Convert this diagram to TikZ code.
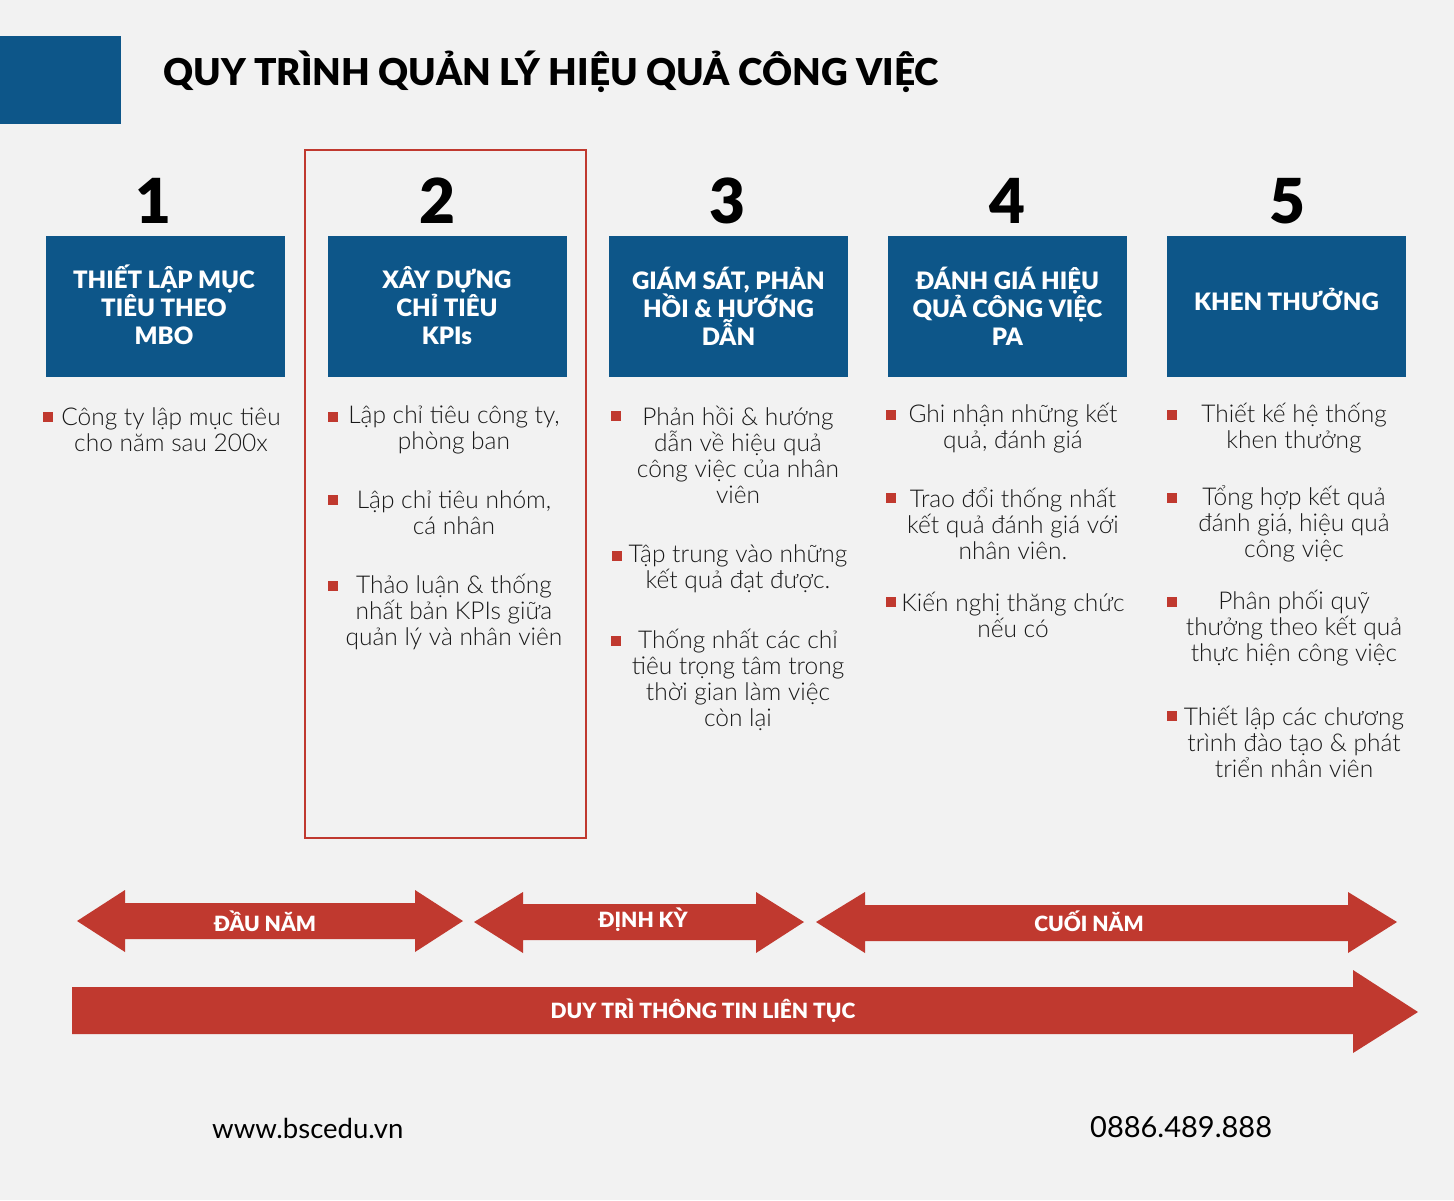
\documentclass[tikz,border=0pt]{standalone}
\usepackage{fontspec}
\setmainfont{Lato}
\newfontfamily\lightfont{Lato Light}
\newfontfamily\heavyfont{Lato Black}
\definecolor{bg}{HTML}{F2F2F2}
\definecolor{navy}{HTML}{0D5689}
\definecolor{brick}{HTML}{C0392F}
\tikzset{
  bluebox/.style={fill=navy, draw=none, minimum width=239pt, minimum height=141pt, inner sep=0pt},
  boxtitle/.style={text=white, font=\heavyfont\fontsize{24}{28}\selectfont, align=center, inner sep=0pt},
  stepnum/.style={font=\heavyfont\fontsize{62}{62}\selectfont, inner sep=0pt},
  bul/.style={fill=brick, minimum size=10pt, inner sep=0pt},
  itemtext/.style={font=\lightfont\fontsize{24.5}{26}\selectfont, align=center, inner sep=0pt, text=black!90},
  arrowlabel/.style={text=white, font=\heavyfont\fontsize{21}{22}\selectfont, inner sep=0pt},
  bigarrow/.style={fill=brick, draw=none},
  footer/.style={font=\fontsize{27.5}{30}\selectfont, inner sep=0pt}
}
\begin{document}
\begin{tikzpicture}[x=1pt, y=-1pt]
\fill[bg] (0,0) rectangle (1454,1200);
\path[use as bounding box] (0,0) rectangle (1454,1200);
% header
\fill[navy] (0,36) rectangle (121,124);
\node[anchor=west, inner sep=0pt, font=\heavyfont\fontsize{37}{40}\selectfont] (title) at (163,72) {QUY TRÌNH QUẢN LÝ HIỆU QUẢ CÔNG VIỆC};
% highlight frame
\draw[brick, line width=2pt] (305,150) rectangle (586,838);
% numbers
\node[stepnum] (n1) at (153,201) {1};
\node[stepnum] (n2) at (437,201) {2};
\node[stepnum] (n3) at (727,201) {3};
\node[stepnum] (n4) at (1007,201) {4};
\node[stepnum] (n5) at (1287,201) {5};
% boxes
\node[bluebox] (b1) at (165.5,306.5) {};
\node[bluebox] (b2) at (447,306.5) {};
\node[bluebox] (b3) at (728.5,306.5) {};
\node[bluebox] (b4) at (1007.5,306.5) {};
\node[bluebox] (b5) at (1286.5,306.5) {};
\node[boxtitle] (t1) at (164,305) {THIẾT LẬP MỤC\\TIÊU THEO\\MBO};
\node[boxtitle] (t2) at (447,306) {XÂY DỰNG\\CHỈ TIÊU\\KPIs};
\node[boxtitle] (t3) at (728.5,306) {GIÁM SÁT, PHẢN\\HỒI \& HƯỚNG\\DẪN};
\node[boxtitle] (t4) at (1007.5,306) {ĐÁNH GIÁ HIỆU\\QUẢ CÔNG VIỆC\\PA};
\node[boxtitle] (t5) at (1286.5,299) {KHEN THƯỞNG};
% column 1
\node[bul] (p11) at (48,417) {};
\node[itemtext] (i11) at (171,430) {Công ty lập mục tiêu\\cho năm sau 200x};
% column 2
\node[bul] (p21) at (333,417) {};
\node[itemtext] (i21) at (454,430) {Lập chỉ tiêu công ty,\\phòng ban};
\node[bul] (p22) at (333,500) {};
\node[itemtext] (i22) at (454,513) {Lập chỉ tiêu nhóm,\\cá nhân};
\node[bul] (p23) at (333,586) {};
\node[itemtext] (i23) at (454,612) {Thảo luận \& thống\\nhất bản KPIs giữa\\quản lý và nhân viên};
% column 3
\node[bul] (p31) at (616,416) {};
\node[itemtext] (i31) at (738,455) {Phản hồi \& hướng\\dẫn về hiệu quả\\công việc của nhân\\viên};
\node[bul] (p32) at (617,556) {};
\node[itemtext] (i32) at (738,569) {Tập trung vào những\\kết quả đạt được.};
\node[bul] (p33) at (616,641) {};
\node[itemtext] (i33) at (738,680) {Thống nhất các chỉ\\tiêu trọng tâm trong\\thời gian làm việc\\còn lại};
% column 4
\node[bul] (p41) at (891,415) {};
\node[itemtext] (i41) at (1013,428) {Ghi nhận những kết\\quả, đánh giá};
\node[bul] (p42) at (891,498) {};
\node[itemtext] (i42) at (1013,524) {Trao đổi thống nhất\\kết quả đánh giá với\\nhân viên.};
\node[bul] (p43) at (891,602) {};
\node[itemtext] (i43) at (1013,615) {Kiến nghị thăng chức\\nếu có};
% column 5
\node[bul] (p51) at (1172,415) {};
\node[itemtext] (i51) at (1294,428) {Thiết kế hệ thống\\khen thưởng};
\node[bul] (p52) at (1172,498) {};
\node[itemtext] (i52) at (1294,524) {Tổng hợp kết quả\\đánh giá, hiệu quả\\công việc};
\node[bul] (p53) at (1172,602) {};
\node[itemtext] (i53) at (1294,628) {Phân phối quỹ\\thưởng theo kết quả\\thực hiện công việc};
\node[bul] (p54) at (1172,716) {};
\node[itemtext] (i54) at (1294,742) {Thiết lập các chương\\trình đào tạo \& phát\\triển nhân viên};
% phase arrows
\fill[bigarrow] (77,921) -- (125,890) -- (125,903) -- (415,903) -- (415,890) -- (463,921) -- (415,952) -- (415,939) -- (125,939) -- (125,952) -- cycle;
\node[arrowlabel] (a1) at (265,921) {ĐẦU NĂM};
\fill[bigarrow] (474,922) -- (523,892) -- (523,904) -- (756,904) -- (756,892) -- (804,922) -- (756,953) -- (756,940) -- (523,940) -- (523,953) -- cycle;
\node[arrowlabel] (a2) at (643,920) {ĐỊNH KỲ};
\fill[bigarrow] (816,922) -- (865,892) -- (865,905) -- (1348,905) -- (1348,892) -- (1397,922) -- (1348,953) -- (1348,941) -- (865,941) -- (865,953) -- cycle;
\node[arrowlabel] (a3) at (1089,921) {CUỐI NĂM};
\fill[bigarrow] (72,987) -- (1353,987) -- (1353,970) -- (1418,1012) -- (1353,1053) -- (1353,1034) -- (72,1034) -- cycle;
\node[arrowlabel] (a4) at (703,1011) {DUY TRÌ THÔNG TIN LIÊN TỤC};
% footer
\node[footer, anchor=west] (web) at (212,1128) {www.bscedu.vn};
\node[footer, anchor=west, font=\fontsize{29}{30}\selectfont] (tel) at (1090,1127) {0886.489.888};
\end{tikzpicture}
\end{document}
